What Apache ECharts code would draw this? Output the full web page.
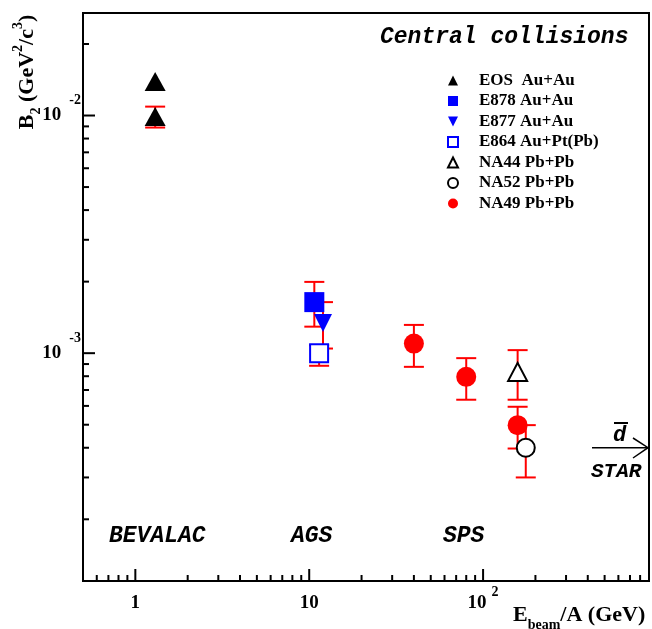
<!DOCTYPE html>
<html><head><meta charset="utf-8">
<script src="https://cdn.jsdelivr.net/npm/echarts@6/dist/echarts.min.js"></script>
<style>html,body{margin:0;padding:0;background:#fff}#c{width:652px;height:629px}</style>
</head><body><div id="c"></div>
<script>
// ---- axis ranges and ticks ----
const xRange = [0.5, 900];
const yRange = [1.1e-4, 0.027];
const xTickVals = [0.6,0.7,0.8,0.9,1,2,3,4,5,6,7,8,9,10,20,30,40,50,60,70,80,90,100,200,300,400,500,600,700,800];
const xMajorVals = [1,10,100];
const yTickVals = [2e-4,3e-4,4e-4,5e-4,6e-4,7e-4,8e-4,9e-4,1e-3,2e-3,3e-3,4e-3,5e-3,6e-3,7e-3,8e-3,9e-3,1e-2,2e-2];
const yMajorVals = [1e-3,1e-2];

// ---- data: [E_beam/A (GeV), B2] ----
const eosPts  = [[1.3, 0.0139],[1.3, 0.0099]];
const e878Pts = [[10.7, 1.64e-3]];
const e877Pts = [[12.0, 1.34e-3]];
const e864Pts = [[11.4, 1.0e-3]];
const na44Pts = [[158, 0.834e-3]];
const na52Pts = [[176, 0.40e-3]];
const na49Pts = [[40, 1.097e-3],[80, 0.795e-3],[158, 0.498e-3]];

// ---- error bars: [x, low, high] ----
const errBars = [
  [1.3, 0.0089, 0.0109],
  [10.7, 1.293e-3, 1.995e-3],
  [12.0, 1.046e-3, 1.64e-3],
  [11.4, 0.885e-3, 1.08e-3],
  [158, 0.637e-3, 1.03e-3],
  [176, 0.30e-3, 0.498e-3],
  [40, 0.876e-3, 1.315e-3],
  [80, 0.637e-3, 0.953e-3],
  [158, 0.397e-3, 0.595e-3]
];

const legendNames = ['EOS  Au+Au','E878 Au+Au','E877 Au+Au','E864 Au+Pt(Pb)','NA44 Pb+Pb','NA52 Pb+Pb','NA49 Pb+Pb'];

const SERIF = '"Liberation Serif","Times New Roman",serif';
const MONO = '"Liberation Mono","Courier New",monospace';
const BLUE = '#0000ff', RED = '#ff0000';

function isPow10(v){ const l = Math.log10(v); return Math.abs(l - Math.round(l)) < 1e-6; }

const chart = echarts.init(document.getElementById('c'), null, {renderer:'canvas'});

function sc(name, symbol, size, style, data, rot){
  const s = {type: 'scatter', name: name, z: 3, symbol: symbol, symbolSize: size,
    itemStyle: Object.assign({opacity: 1}, style), emphasis: {disabled: true}, data: data};
  if (rot) s.symbolRotate = rot;
  return s;
}

const option = {
  animation: false,
  backgroundColor: '#fff',
  grid: {left: 83, top: 13, right: 3, bottom: 48, show: true, borderColor: '#000', borderWidth: 2, backgroundColor: 'transparent'},
  xAxis: {
    type: 'log', min: xRange[0], max: xRange[1], logBase: 10,
    axisLine: {show: false}, axisTick: {show: false}, splitLine: {show: false}, minorTick:{show:false},
    axisLabel: {
      showMinLabel: false, showMaxLabel: false, margin: 4,
      formatter: function(v){
        if (!isPow10(v)) return '';
        const e = Math.round(Math.log10(v));
        if (e === 0) return '{b|1}';
        if (e === 1) return '{b|10}';
        return '{b|10}{s|' + e + '}';
      },
      rich: {
        b: {fontFamily: SERIF, fontWeight: 'bold', fontSize: 19, color: '#000', lineHeight: 36},
        s: {fontFamily: SERIF, fontWeight: 'bold', fontSize: 14, color: '#000', verticalAlign: 'top', lineHeight: 14, padding: [0,0,0,5]}
      }
    }
  },
  yAxis: {
    type: 'log', min: yRange[0], max: yRange[1], logBase: 10,
    axisLine: {show: false}, axisTick: {show: false}, splitLine: {show: false}, minorTick:{show:false},
    axisLabel: {
      showMinLabel: false, showMaxLabel: false, margin: 2,
      formatter: function(v){
        if (!isPow10(v)) return '';
        const e = Math.round(Math.log10(v));
        return '{b|10}{s|' + e + '}';
      },
      rich: {
        b: {fontFamily: SERIF, fontWeight: 'bold', fontSize: 19, color: '#000', lineHeight: 44},
        s: {fontFamily: SERIF, fontWeight: 'bold', fontSize: 14, color: '#000', verticalAlign: 'top', lineHeight: 14, padding: [0,0,0,8]}
      }
    }
  },
  legend: {
    orient: 'vertical', left: 442, top: 67, itemWidth: 10, itemHeight: 10, itemGap: 3.5,
    data: legendNames.map(function(n, i){
      return i === 2 ? {name: n, icon: 'path://M0,0L10,0L5,10Z'} : {name: n};
    }),
    formatter: function(n){ return '{g|}{t|' + n + '}'; },
    textStyle: {
      fontFamily: SERIF, fontWeight: 'bold', fontSize: 17, color: '#000', lineHeight: 16,
      rich: {g: {width: 16}, t: {fontFamily: SERIF, fontWeight: 'bold', fontSize: 17, color: '#000', lineHeight: 16}}
    },
    selectedMode: false
  },
  graphic: [
    {type: 'text', left: 380, top: 26, silent: true, style: {text: 'Central collisions', font: 'italic bold 23px ' + MONO, fill: '#000'}},
    {type: 'text', left: 109, top: 525, silent: true, style: {text: 'BEVALAC', font: 'italic bold 23px ' + MONO, fill: '#000'}},
    {type: 'text', left: 291, top: 525, silent: true, style: {text: 'AGS', font: 'italic bold 23px ' + MONO, fill: '#000'}},
    {type: 'text', left: 443, top: 525, silent: true, style: {text: 'SPS', font: 'italic bold 23px ' + MONO, fill: '#000'}},
    {type: 'text', left: 591, top: 461, silent: true, style: {text: 'STAR', font: 'italic bold 21px ' + MONO, fill: '#000'}},
    {type: 'text', left: 613, top: 424, silent: true, style: {text: 'd', font: 'italic bold 22px ' + MONO, fill: '#000'}},
    {type: 'line', silent: true, shape: {x1: 614, y1: 423, x2: 628, y2: 423}, style: {stroke: '#000', lineWidth: 2}},
    {type: 'line', silent: true, shape: {x1: 592, y1: 447.7, x2: 648, y2: 447.7}, style: {stroke: '#000', lineWidth: 1.5}},
    {type: 'polyline', silent: true, shape: {points: [[633, 438],[648, 447.7],[633, 458]]}, style: {stroke: '#000', lineWidth: 1.5, fill: null}},
    {type: 'text', x: 27, y: 72, rotation: Math.PI/2, silent: true, style: {
      text: '{b|B}{sub|2}{b| (GeV}{sup|2}{b|/c}{sup|3}{b|)}', align: 'center', verticalAlign: 'middle',
      rich: {
        b: {fontFamily: SERIF, fontWeight: 'bold', fontSize: 22, fill: '#000', lineHeight: 32},
        sub: {fontFamily: SERIF, fontWeight: 'bold', fontSize: 14, fill: '#000', verticalAlign: 'bottom', lineHeight: 14},
        sup: {fontFamily: SERIF, fontWeight: 'bold', fontSize: 14, fill: '#000', verticalAlign: 'top', lineHeight: 14}
      }}},
    {type: 'text', x: 513, y: 615, silent: true, style: {
      text: '{b|E}{sub|beam}{b|/A (GeV)}', align: 'left', verticalAlign: 'middle',
      rich: {
        b: {fontFamily: SERIF, fontWeight: 'bold', fontSize: 22, fill: '#000', lineHeight: 34},
        sub: {fontFamily: SERIF, fontWeight: 'bold', fontSize: 14, fill: '#000', verticalAlign: 'bottom', lineHeight: 14}
      }}}
  ],
  series: [
    {
      type: 'custom', name: 'xticks', silent: true, clip: false, z: 5,
      data: xTickVals.map(v => [v, yRange[0], xMajorVals.indexOf(v) >= 0 ? 1 : 0]),
      renderItem: function(params, api){
        const p = api.coord([api.value(0), yRange[0]]);
        const len = api.value(2) ? 12 : 6;
        return {type: 'line', shape: {x1: p[0], y1: p[1], x2: p[0], y2: p[1] - len}, style: {stroke: '#000', lineWidth: 2}};
      }
    },
    {
      type: 'custom', name: 'yticks', silent: true, clip: false, z: 5,
      data: yTickVals.map(v => [xRange[0], v, yMajorVals.indexOf(v) >= 0 ? 1 : 0]),
      renderItem: function(params, api){
        const p = api.coord([xRange[0], api.value(1)]);
        const len = api.value(2) ? 12 : 6;
        return {type: 'line', shape: {x1: p[0], y1: p[1], x2: p[0] + len, y2: p[1]}, style: {stroke: '#000', lineWidth: 2}};
      }
    },
    {
      type: 'custom', name: 'errors', silent: true, z: 1,
      data: errBars,
      renderItem: function(params, api){
        const x = api.value(0);
        const lo = api.coord([x, api.value(1)]);
        const hi = api.coord([x, api.value(2)]);
        const w = 10;
        const st = {stroke: RED, lineWidth: 2};
        return {type: 'group', children: [
          {type: 'line', shape: {x1: lo[0], y1: lo[1], x2: hi[0], y2: hi[1]}, style: st},
          {type: 'line', shape: {x1: lo[0]-w, y1: lo[1], x2: lo[0]+w, y2: lo[1]}, style: st},
          {type: 'line', shape: {x1: hi[0]-w, y1: hi[1], x2: hi[0]+w, y2: hi[1]}, style: st}
        ]};
      }
    },
    sc(legendNames[0], 'triangle', [21,19], {color: '#000'}, eosPts),
    sc(legendNames[1], 'rect', 20, {color: BLUE}, e878Pts),
    sc(legendNames[2], 'triangle', [18,18], {color: BLUE}, e877Pts, 180),
    sc(legendNames[3], 'rect', 18, {color: '#fff', borderColor: BLUE, borderWidth: 2}, e864Pts),
    sc(legendNames[4], 'triangle', [19,18], {color: '#fff', borderColor: '#000', borderWidth: 2}, na44Pts),
    sc(legendNames[5], 'circle', 18, {color: '#fff', borderColor: '#000', borderWidth: 2}, na52Pts),
    sc(legendNames[6], 'circle', 20, {color: RED}, na49Pts)
  ]
};
chart.setOption(option);
</script>
</body></html>
